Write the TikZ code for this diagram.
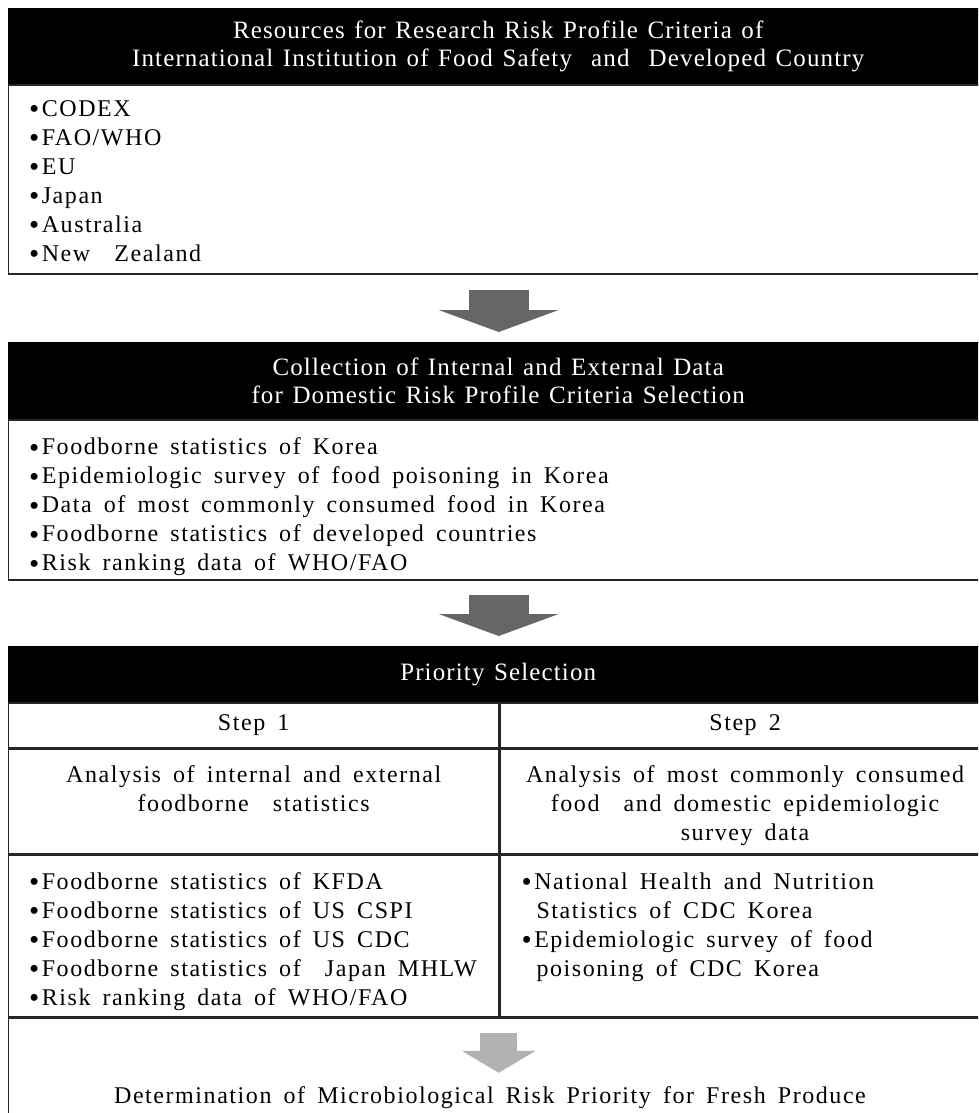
\documentclass[tikz,border=0pt]{standalone}
\usepackage{fontspec}
\setmainfont{Liberation Serif}[LetterSpace=6.5,WordSpace=1.6]
\newfontfamily\hdrfont{Liberation Serif}[LetterSpace=4.5,WordSpace=1.3]
\usetikzlibrary{positioning,arrows.meta}
\newcommand{\bul}{\raisebox{-2.5pt}{\fontsize{29}{29}\selectfont\textbullet}\hspace{2.5pt}}

\begin{document}
\begin{tikzpicture}[x=1pt,y=-1pt,
    hdr/.style={fill=black,draw=black,text=white,minimum width=980pt,anchor=north west,inner sep=0pt,align=center,font=\hdrfont\fontsize{25}{28}\selectfont},
    cell/.style={draw=black!85,line width=1.4pt,anchor=north west,inner sep=0pt,font=\fontsize{24}{29}\selectfont},
    listtext/.style={anchor=north west,inner sep=0pt,align=left,font=\fontsize{24}{29}\selectfont},
    celltext/.style={anchor=north,inner sep=0pt,align=center,font=\fontsize{24}{29}\selectfont},
    bigarrow/.style={draw=black!60,line width=60pt,-{Triangle[length=22pt,width=120pt,line width=0pt]}},
    lightarrow/.style={draw=black!30,line width=37pt,-{Triangle[length=22pt,width=74pt,line width=0pt]}}]
  \clip (0,0) rectangle (978,1113);

  %Box: international resources
  \node[hdr,minimum height=76pt] (head1) at (8,8) {Resources for Research Risk Profile Criteria of\\International Institution of Food Safety \ and \ Developed Country};
  \node[cell,minimum width=980pt,minimum height=189pt] (body1) at (head1.south west) {};
  % Text Node
  \node[listtext] (list1) at ([xshift=21pt,yshift=-16pt]body1.north west) {\bul CODEX\\\bul FAO/WHO\\\bul EU\\\bul Japan\\\bul Australia\\\bul New \ Zealand};

  %Arrow
  \draw[bigarrow] ([yshift=-15pt]body1.south) -- ([yshift=10pt]body1.south |- 0,342);

  %Box: domestic data
  \node[hdr,minimum height=77pt] (head2) at (8,342) {Collection of Internal and External Data\\for Domestic Risk Profile Criteria Selection};
  \node[cell,minimum width=980pt,minimum height=160pt] (body2) at (head2.south west) {};
  % Text Node
  \node[listtext] (list2) at ([xshift=21pt,yshift=-18pt]body2.north west) {\bul Foodborne statistics of Korea\\\bul Epidemiologic survey of food poisoning in Korea\\\bul Data of most commonly consumed food in Korea\\\bul Foodborne statistics of developed countries\\\bul Risk ranking data of WHO/FAO};

  %Arrow
  \draw[bigarrow] ([yshift=-14pt]body2.south) -- ([yshift=10pt]body2.south |- 0,646);

  %Box: priority selection
  \node[hdr,minimum height=56pt] (head3) at (8,646) {Priority Selection};
  \node[cell,minimum width=490pt,minimum height=45pt] (step1) at (head3.south west) {Step 1};
  \node[cell,minimum width=490pt,minimum height=45pt] (step2) at (step1.north east) {Step 2};
  \node[cell,minimum width=490pt,minimum height=104pt] (anal1) at (step1.south west) {};
  \node[cell,minimum width=490pt,minimum height=104pt] (anal2) at (anal1.north east) {};
  \node[cell,minimum width=490pt,minimum height=162pt] (src1) at (anal1.south west) {};
  \node[cell,minimum width=490pt,minimum height=162pt] (src2) at (src1.north east) {};
  \node[cell,minimum width=980pt,minimum height=112pt] (result) at (src1.south west) {};

  % Text Node
  \node[celltext] (analtxt1) at ([yshift=-17pt]anal1.north) {Analysis of internal and external\\foodborne \ statistics};
  % Text Node
  \node[celltext] (analtxt2) at ([yshift=-17pt]anal2.north) {Analysis of most commonly consumed\\food \ and domestic epidemiologic\\survey data};
  % Text Node
  \node[listtext] (list3) at ([xshift=21pt,yshift=-18pt]src1.north west) {\bul Foodborne statistics of KFDA\\\bul Foodborne statistics of US CSPI\\\bul Foodborne statistics of US CDC\\\bul Foodborne statistics of \ Japan MHLW\\\bul Risk ranking data of WHO/FAO};
  % Text Node
  \node[listtext] (list4) at ([xshift=22pt,yshift=-18pt]src2.north west) {\bul National Health and Nutrition\\\hspace{15pt}Statistics of CDC Korea\\\bul Epidemiologic survey of food\\\hspace{15pt}poisoning of CDC Korea};

  % Text Node
  \node[font=\fontsize{24}{28}\selectfont,inner sep=0pt] (final) at (490,1098) {Determination of Microbiological Risk Priority for Fresh Produce};
  %Arrow
  \draw[lightarrow] ([yshift=-15pt]result.north) -- ([yshift=14pt]result.north |- final.north);
\end{tikzpicture}
\end{document}
